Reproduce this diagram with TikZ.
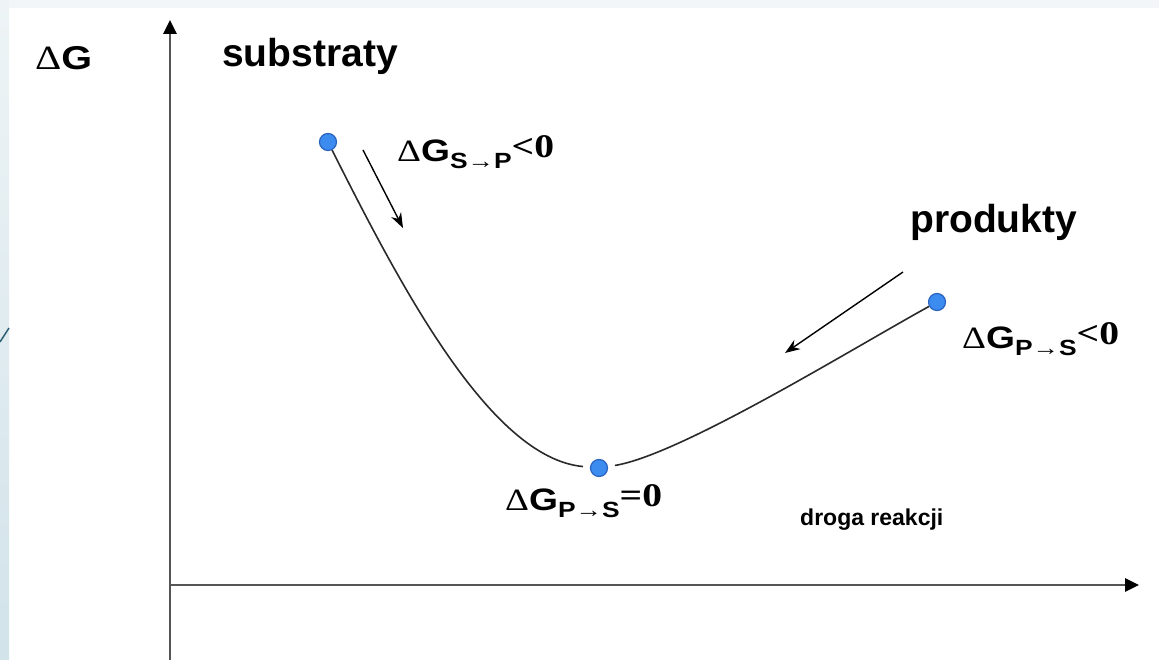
\documentclass[tikz,border=0pt]{standalone}
\usepackage{graphicx}
\usepackage{fontspec}
\setmainfont{Liberation Sans}
\newfontfamily\serifA{Liberation Serif}
\usetikzlibrary{arrows.meta}
\definecolor{axisgray}{HTML}{555555}
\definecolor{dotblue}{HTML}{3C8CF0}
\definecolor{dotedge}{HTML}{2A62C0}
\definecolor{bandtop}{HTML}{F3F6F8}
\definecolor{bandtopL}{HTML}{EEF4F6}
\definecolor{bandbot}{HTML}{D2E3EA}
\definecolor{deco}{HTML}{2F5F75}
\definecolor{curvecol}{HTML}{2A2A2A}
\newcommand{\dGlabel}[3]{\scalebox{1.2}[1]{{\fontsize{31}{31}\selectfont\serifA\mdseries Δ}{\fontsize{31}{31}\selectfont\bfseries G}\raisebox{-7pt}{\fontsize{22}{22}\selectfont\bfseries #1{\serifA\mdseries →}#2}\raisebox{4pt}{\fontsize{33}{33}\selectfont\serifA\bfseries #3}}}
\begin{document}
\begin{tikzpicture}[x=1pt,y=-1pt,
  axis/.style={draw=axisgray,line width=2.8pt,-{Triangle[length=14pt,width=13pt,color=black]}},
  dot/.style={circle,fill=dotblue,draw=dotedge,line width=1.2pt,minimum size=17pt,inner sep=0pt},
  curve/.style={draw=curvecol,line width=1.6pt},
  darrow/.style={draw=black,line width=1.4pt,-{Stealth[length=15pt,width=11pt]}},
  lbl/.style={anchor=base west,inner sep=0pt,font=\bfseries},
]
\fill[white] (0,0) rectangle (1159,660);
\useasboundingbox (0,0) rectangle (1159,660);
\fill[bandtop] (0,0) rectangle (1159,8);
\shade[top color=bandtopL,bottom color=bandbot] (0,0) rectangle (9,660);
\draw[deco,line width=1.5pt] (0,342) -- (9,328);

% axes
\coordinate (yb) at (170,660);
\coordinate (yt) at (170,20);
\coordinate (xl) at (170,585);
\coordinate (xr) at (1139,585);
\draw[axis] (yb) -- (yt);
\draw[axis] (xl) -- (xr);

% points
\node[dot] (S) at (328,142) {};
\node[dot] (M) at (599,468) {};
\node[dot] (P) at (937,302) {};

% curve
\draw[curve,shorten >=7pt] (S) .. controls (400,285) and (490,458) .. (M);
\draw[curve,shorten <=7pt] (M) .. controls (680,455) and (850,350) .. (P);

% direction arrows
\coordinate (a1s) at (363,150);
\coordinate (a1e) at (403,228);
\coordinate (a2s) at (903,272);
\coordinate (a2e) at (785,353);
\draw[darrow] (a1s) -- (a1e);
\draw[darrow] (a2s) -- (a2e);

% labels
\node[lbl] (dG) at (35,70) {\scalebox{1.2}[1]{{\fontsize{34}{34}\selectfont\serifA\mdseries Δ}{\fontsize{33}{33}\selectfont\bfseries G}}};
\node[lbl,font=\fontsize{39}{39}\selectfont\bfseries] (sub) at (222,67) {substraty};
\node[lbl,font=\fontsize{39}{39}\selectfont\bfseries] (prod) at (910,233) {produkty};
\node[lbl] (lSP) at (397,162) {\dGlabel{S}{P}{<0}};
\node[lbl] (lPS) at (962,348) {\dGlabel{P}{S}{<0}};
\node[lbl] (lEq) at (505,510) {\dGlabel{P}{S}{=0}};
\node[lbl,font=\fontsize{23}{23}\selectfont\bfseries] (road) at (800,525) {droga reakcji};
\end{tikzpicture}
\end{document}
